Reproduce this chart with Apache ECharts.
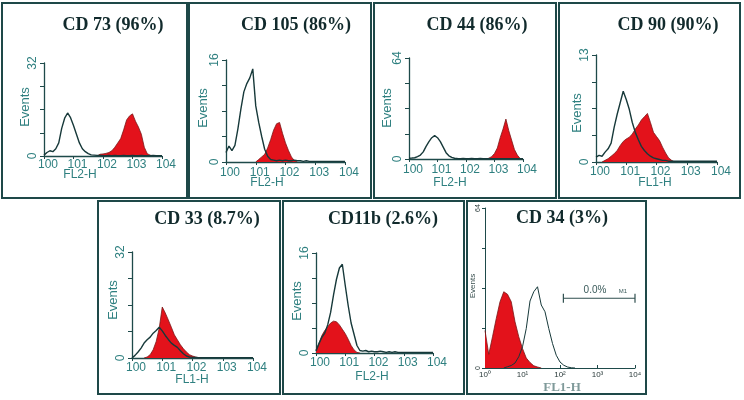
<!DOCTYPE html>
<html><head><meta charset="utf-8">
<script src="https://cdn.jsdelivr.net/npm/echarts@6/dist/echarts.min.js"></script>
<style>html,body{margin:0;padding:0;background:#fff}#c{width:744px;height:400px}</style>
</head><body><div id="c"></div>
<script>
// log10 fluorescence positions (decades)
const decades = [0,0.1,0.2,0.3,0.4,0.5,0.6,0.7,0.8,0.9,1.0,1.1,1.2,1.3,1.4,1.5,1.6,1.7,1.8,1.9,2.0,2.1,2.2,2.3,2.4,2.5,2.6,2.7,2.8,2.9,3.0,3.1,3.2,3.3,3.4,3.5,3.6,3.7,3.8,3.9,4.0];
const decadeTicks = [0,1,2,3,4];
const titles = ['CD 73 (96%)','CD 105 (86%)','CD 44 (86%)','CD 90 (90%)','CD 33 (8.7%)','CD11b (2.6%)','CD 34 (3%)'];
const channelNames = ['FL2-H','FL2-H','FL2-H','FL1-H','FL1-H','FL2-H','FL1-H'];
const eventMax = [32,16,64,13,32,16,64];

// isotype control (open) and stained (red filled) histograms, events per bin
const cd73Open = [0.3,1.2,1.8,1.5,2.5,4.5,9.5,13,14.8,13.2,10.5,7.5,4.5,2.5,1.5,0.8,0.4,0.3,0.2,0.2,0.1,0.1,0.2,0.1,0.2,0.1,0.1,0.2,0.1,0.1,0.2,0.1,0.1,0.2,0.1,0.1,0.1,0.2,0.1,0.1,0.1];
const cd73Pos  = [null,null,null,null,null,null,null,null,null,null,null,null,null,null,null,null,null,null,0,0.6,0.7,0.9,1.2,1.8,3.0,4.5,6.0,9.0,12.4,13.8,14.5,12.0,10.0,7.5,3.0,0.8,0.3,0,null,null,null];
const cd105Open = [1.5,2.5,1.8,2.6,5.2,8.3,11,12.3,13.2,14.6,8.8,6.2,4,2,0.9,0.4,0.3,0.2,0.3,0.2,0.3,0.2,0.2,0.3,0.2,0.2,0.1,0.2,0.1,0.1,0.1,0.1,0.1,0.1,0.1,0.1,0.1,0.1,0.1,0.1,0.1];
const cd105Pos  = [null,null,null,null,null,null,null,null,null,null,0,0.4,0.8,1.2,2.2,3.5,5,6,6.2,4.5,3.0,1.8,0.8,0.2,0,null,null,null,null,null,null,null,null,null,null,null,null,null,null,null,null];
const cd44Open = [0.5,0.6,0.8,1.5,2.5,4.5,8,11,13.5,14.8,13.5,11,7.5,4,2,1,0.5,0.3,0.2,0.3,0.2,0.2,0.3,0.2,0.2,0.3,0.2,0.2,0.2,0.2,0.2,0.2,0.2,0.2,0.2,0.2,0.2,0.2,0.2,0.2,0.2];
const cd44Pos  = [null,null,null,null,null,null,null,null,null,null,null,null,null,null,null,null,null,null,null,null,null,null,null,null,null,null,null,0,0.5,1.5,3.5,7,13.5,19,25.3,18,12,6,2.5,0.3,0];
const cd90Open = [0.6,0.8,0.7,1.2,1.6,2.3,4.2,5.8,7.2,8.6,7.6,6.4,4.8,3.6,2.7,1.9,1.4,1.0,0.7,0.5,0.4,0.3,0.2,0.2,0.1,0.1,0.1,0.1,0.1,0.1,0.1,0.1,0.1,0.1,0.1,0.1,0.1,0.1,0.1,0.1,0.1];
const cd90Pos  = [null,null,0,0.2,0.4,0.7,1.0,1.4,2.0,2.5,2.8,3.0,3.4,4.0,4.5,5.1,5.5,5.9,4.8,3.6,3.1,2.6,1.8,1.1,0.5,0.2,0,null,null,null,null,null,null,null,null,null,null,null,null,null,null];
const cd33Open = [0,0.8,1.8,3,4.5,5.5,6.3,7.5,8.3,9.3,8.2,6.8,5.6,4.5,3.8,3.2,2.2,1.3,0.6,0.3,0.2,0.2,0.1,0.1,0.1,0.1,0.1,0.1,0.1,0.1,0.1,0.1,0.1,0.1,0.1,0.1,0.1,0.1,0.1,0.1,0.1];
const cd33Pos  = [null,null,null,null,0,0.3,1,2.5,5,9,15.4,13.6,11.5,9.3,7,5.5,4,2.8,1.8,1,0.6,0.3,0.1,0,null,null,null,null,null,null,null,null,null,null,null,null,null,null,null,null,null];
const cd11bOpen = [0.3,1.5,2.5,3.2,4.5,6.5,9.3,11.8,13.6,14.2,10.8,7.6,4.8,3,1.2,0.4,0.3,0.4,0.2,0.3,0.2,0.2,0.3,0.2,0.1,0.2,0.1,0.2,0.1,0.1,0.1,0.1,0.1,0.1,0.1,0.1,0.1,0.1,0.1,0.1,0.1];
const cd11bPos  = [0.5,1.5,2.8,3.6,4.2,4.8,5.1,5,4.5,3.8,3.1,2.2,1.2,0.5,0.1,0,null,null,null,null,null,null,null,null,null,null,null,null,null,null,null,null,null,null,null,null,null,null,null,null,null];
const cd34Open = [null,null,null,null,null,0,0.5,1,2,4.5,8.5,15.8,26.8,30.5,32.5,25.2,22.5,15.8,9.8,5.1,2.4,1.1,0.4,0.1,0,null,null,null,null,null,null,null,null,null,null,null,null,null,null,null,null];
const cd34Pos  = [15,5.5,12.5,19.8,26.5,30.5,29.5,26.5,18.5,12.5,7.8,4,2.2,0.9,0.4,0,null,null,null,null,null,null,null,null,null,null,null,null,null,null,null,null,null,null,null,null,null,null,null,null,null];
// CD34 M1 gate
const cd34GateRange = [2.09, 4.0];
const cd34GateLevel = 27.9;
const cd34GateText = ['0.0%', 'M1'];

const openSets = [cd73Open, cd105Open, cd44Open, cd90Open, cd33Open, cd11bOpen, cd34Open];
const posSets  = [cd73Pos, cd105Pos, cd44Pos, cd90Pos, cd33Pos, cd11bPos, cd34Pos];

// layout (pixels)
const layout = [
  {box:[2,3,185,195],   grid:[44,63,118,93],   title:[113,25],  yName:[25,107],  xName:[80,175],  xm:3},
  {box:[189,3,182,195], grid:[226,60,119,102], title:[296,25],  yName:[203,108], xName:[267,183], xm:5},
  {box:[374,3,182,195], grid:[409,58,114,101], title:[477,25],  yName:[387,108], xName:[450,183], xm:5},
  {box:[559,3,181,195], grid:[596,55,121,107], title:[668,25],  yName:[577,113], xName:[655,183], xm:4},
  {box:[98,201,182,193], grid:[132,252,121,106], title:[207,219], yName:[113,300], xName:[192,380], xm:4},
  {box:[283,201,181,193], grid:[316,253,117,100], title:[383,219], yName:[297,301], xName:[372,377], xm:4},
  {box:[467,201,179,193], grid:[485,208,150,160], title:[562,218], yName:[473,286], xName:[562,388], xm:3}
];

const AXIS = '#1e4a4a', TEAL = '#2f8080', FRAME = '#1e4848', RED = '#e3121b', OPEN = '#17393a';
const SUP = ['\u2070','\u00b9','\u00b2','\u00b3','\u2074'];

function pairs(arr){ const out=[]; arr.forEach((v,i)=>{ if(v!==null) out.push([decades[i], v]); }); return out; }

const grids=[], xAxes=[], yAxes=[], series=[], graphics=[];
layout.forEach((L,i)=>{
  const last = i===6;
  const max = eventMax[i];
  grids.push({left:L.grid[0], top:L.grid[1], width:L.grid[2], height:L.grid[3], containLabel:false});
  xAxes.push({type:'value', gridIndex:i, min:0, max:4, interval:1,
    axisLine:{show:true, lineStyle:{color:AXIS, width:last?1:1.3}},
    axisTick:{show:true, inside:last, length:3, lineStyle:{color:AXIS}},
    splitLine:{show:false},
    axisLabel:{show:true, margin:L.xm, hideOverlap:false, showMinLabel:true, showMaxLabel:true,
      color: last ? '#2a3a3a' : TEAL, fontSize: last ? 8 : 12, fontFamily:'Liberation Sans',
      padding: last ? 0 : [0,0,0,8],
      formatter: v => last ? ('10' + SUP[decadeTicks.indexOf(v)]) : ('10' + v)}
  });
  yAxes.push({type:'value', gridIndex:i, min:0, max:max, interval:max/4,
    axisLine:{show:true, onZero:false, lineStyle:{color:AXIS, width:last?1:1.3}},
    axisTick:{show:true, length:last?3:4, lineStyle:{color:AXIS}},
    splitLine:{show:false},
    axisLabel:{show:true, rotate:90, margin:last?3:5, color: last ? '#2a3a3a' : TEAL,
      fontSize: last ? 7 : 12, fontFamily:'Liberation Sans',
      formatter: v => (v===0 || v===max) ? String(v) : ''}
  });
  series.push({type:'line', xAxisIndex:i, yAxisIndex:i, data:pairs(posSets[i]), symbol:'none', silent:true,
    lineStyle:{color:'#7a1818', width:0.8}, areaStyle:{color:RED, opacity:1}, z:2});
  series.push({type:'line', xAxisIndex:i, yAxisIndex:i, data:pairs(openSets[i]), symbol:'none', silent:true,
    lineStyle:{color:OPEN, width:last?1:1.4}, z:3});

  graphics.push({type:'rect', shape:{x:L.box[0], y:L.box[1], width:L.box[2], height:L.box[3]},
    style:{fill:'none', stroke:FRAME, lineWidth:2}, silent:true});
  graphics.push({type:'text', x:L.title[0], y:L.title[1],
    style:{text:titles[i], font:'bold 18px "Liberation Serif"', fill:'#112a2c', align:'center', verticalAlign:'middle'}});
  graphics.push({type:'text', x:L.yName[0], y:L.yName[1], rotation:Math.PI/2,
    style:{text:'Events', font: last ? '8px "Liberation Sans"' : '13px "Liberation Sans"', fill: last ? '#3a5050' : TEAL, align:'center', verticalAlign:'middle'}});
  graphics.push({type:'text', x:L.xName[0], y:L.xName[1],
    style:{text:channelNames[i], font: last ? 'bold 13px "Liberation Serif"' : '12px "Liberation Sans"', fill: last ? '#7f9a9a' : TEAL, align:'center', verticalAlign:'middle'}});
});

// CD34 M1 marker
series.push({type:'line', xAxisIndex:6, yAxisIndex:6, symbol:'rect', symbolSize:[1.2,9], silent:true,
  data:[[cd34GateRange[0], cd34GateLevel],[cd34GateRange[1], cd34GateLevel]],
  itemStyle:{color:'#2f4f4f'}, lineStyle:{color:'#2f4f4f', width:1}, z:4});
graphics.push({type:'text', x:595, y:290, style:{text:cd34GateText[0], font:'10px "Liberation Sans"', fill:'#3a5a5a', align:'center', verticalAlign:'middle'}});
graphics.push({type:'text', x:623, y:291, style:{text:cd34GateText[1], font:'6px "Liberation Sans"', fill:'#3a5a5a', align:'center', verticalAlign:'middle'}});

const chart = echarts.init(document.getElementById('c'), null, {renderer:'canvas'});
chart.setOption({backgroundColor:'#fff', animation:false, grid:grids, xAxis:xAxes, yAxis:yAxes, series:series, graphic:graphics});
</script></body></html>
